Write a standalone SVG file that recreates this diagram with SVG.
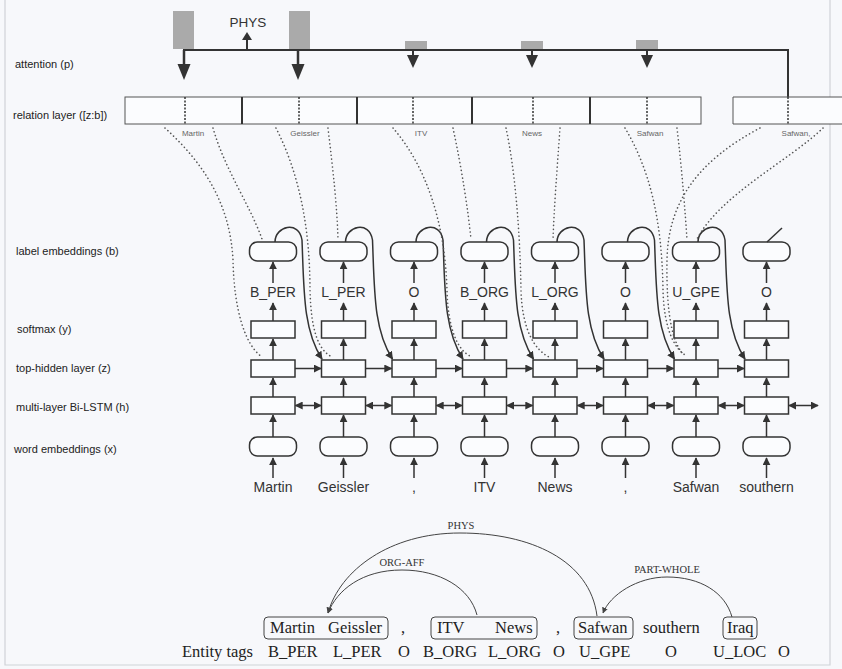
<svg xmlns="http://www.w3.org/2000/svg" width="842" height="669" viewBox="0 0 842 669">
<defs>
<marker id="ah" viewBox="0 0 10 10" refX="9" refY="5" markerWidth="8" markerHeight="8" markerUnits="userSpaceOnUse" orient="auto-start-reverse"><path d="M0,0 L10,5 L0,10 z" fill="#333"/></marker>
<marker id="ahs" viewBox="0 0 10 10" refX="9" refY="5" markerWidth="6" markerHeight="6" markerUnits="userSpaceOnUse" orient="auto"><path d="M0,0 L10,5 L0,10 z" fill="#444"/></marker>
<style>
.lbl{font-family:"Liberation Sans",Arial,sans-serif;font-size:11px;fill:#222}
.box{fill:#fbfcfe;stroke:#333;stroke-width:1.5}
.word{font-family:"Liberation Sans",Arial,sans-serif;font-size:14px;fill:#333;text-anchor:middle}
.tiny{font-family:"Liberation Sans",Arial,sans-serif;font-size:8px;fill:#666;text-anchor:middle}
.arr{stroke:#333;stroke-width:1.5;fill:none;marker-end:url(#ah)}
.darr{stroke:#333;stroke-width:1.5;fill:none;marker-end:url(#ah);marker-start:url(#ah)}
.dot{stroke:#555;stroke-width:1.6;fill:none;stroke-dasharray:0.1 3.8;stroke-linecap:round}
.serif{font-family:"Liberation Serif","Times New Roman",serif;font-size:16.5px;fill:#222}
.rel{font-family:"Liberation Serif","Times New Roman",serif;font-size:10.5px;fill:#333;text-anchor:middle}
.arc{stroke:#444;stroke-width:1;fill:none;marker-end:url(#ahs)}
.ebox{fill:none;stroke:#444;stroke-width:1}
</style>
</defs>
<rect width="842" height="669" fill="#f7f8fb"/>
<g id="frame" stroke="#d0d3d8" stroke-width="1.2" fill="none">
<path d="M5,0 V665 H830 V0"/>
</g>

<g id="row-labels">
<text class="lbl" x="15" y="68">attention (p)</text>
<text class="lbl" x="13" y="119">relation layer ([z:b])</text>
<text class="lbl" x="16" y="255">label embeddings (b)</text>
<text class="lbl" x="17" y="333">softmax (y)</text>
<text class="lbl" x="16" y="372">top-hidden layer (z)</text>
<text class="lbl" x="16" y="411">multi-layer Bi-LSTM (h)</text>
<text class="lbl" x="14" y="453">word embeddings (x)</text>
</g>

<g id="attention">
<rect x="173" y="11" width="21" height="38" fill="#aaa"/>
<rect x="289" y="11" width="21" height="38" fill="#aaa"/>
<rect x="405" y="41" width="22" height="8" fill="#aaa"/>
<rect x="521" y="41" width="22" height="8" fill="#aaa"/>
<rect x="636" y="40" width="22" height="9" fill="#aaa"/>
<path d="M183,50 H788 V97" stroke="#333" stroke-width="2" fill="none"/>
<line x1="247" y1="50" x2="247" y2="38" stroke="#333" stroke-width="2"/>
<polygon points="242,40 252,40 247,32" fill="#333"/>
<text x="248" y="27" font-family="Liberation Sans,Arial,sans-serif" font-size="13.5" fill="#333" text-anchor="middle">PHYS</text>
<line x1="184" y1="50" x2="184" y2="66" stroke="#333" stroke-width="2.5"/>
<polygon points="177.5,64 190.5,64 184,80" fill="#333"/>
<line x1="298" y1="50" x2="298" y2="66" stroke="#333" stroke-width="2.5"/>
<polygon points="291.5,64 304.5,64 298,80" fill="#333"/>
<line x1="413" y1="50" x2="413" y2="57" stroke="#333" stroke-width="2"/>
<polygon points="407,55 419,55 413,68" fill="#333"/>
<line x1="532" y1="50" x2="532" y2="57" stroke="#333" stroke-width="2"/>
<polygon points="526,55 538,55 532,68" fill="#333"/>
<line x1="647" y1="50" x2="647" y2="57" stroke="#333" stroke-width="2"/>
<polygon points="641,55 653,55 647,68" fill="#333"/>
</g>

<g id="relation-layer">
<rect x="125" y="97" width="576" height="27" fill="#fbfcfe" stroke="#555" stroke-width="1"/>
<g stroke="#333" stroke-width="2">
<line x1="242" y1="97" x2="242" y2="124"/>
<line x1="357" y1="97" x2="357" y2="124"/>
<line x1="472" y1="97" x2="472" y2="124"/>
<line x1="590" y1="97" x2="590" y2="124"/>
</g>
<path d="M842,97 H733 V124 H842" fill="#fbfcfe" stroke="#555" stroke-width="1"/>
<g stroke="#333" stroke-width="1.5" stroke-dasharray="2 1.5">
<line x1="185" y1="97" x2="185" y2="124"/>
<line x1="299" y1="97" x2="299" y2="124"/>
<line x1="413" y1="97" x2="413" y2="124"/>
<line x1="533" y1="97" x2="533" y2="124"/>
<line x1="647" y1="97" x2="647" y2="124"/>
<line x1="788" y1="97" x2="788" y2="124"/>
</g>
<text class="tiny" x="193" y="136">Martin</text>
<text class="tiny" x="305" y="136">Geissler</text>
<text class="tiny" x="421" y="136">ITV</text>
<text class="tiny" x="532" y="136">News</text>
<text class="tiny" x="650" y="136">Safwan</text>
<text class="tiny" x="796" y="136">Safwan,</text>
</g>

<g id="col1">
<rect class="box" x="249.5" y="242" width="47" height="19" rx="8"/>
<text class="word" x="273" y="297">B_PER</text>
<rect class="box" x="251" y="321" width="44" height="17"/>
<rect class="box" x="251" y="360" width="44" height="17"/>
<rect class="box" x="251" y="397" width="44" height="17"/>
<rect class="box" x="249.5" y="437" width="47" height="19" rx="8"/>
<text class="word" x="273" y="492">Martin</text>
</g>
<g id="col2">
<rect class="box" x="320" y="242" width="47" height="19" rx="8"/>
<text class="word" x="343.5" y="297">L_PER</text>
<rect class="box" x="321.5" y="321" width="44" height="17"/>
<rect class="box" x="321.5" y="360" width="44" height="17"/>
<rect class="box" x="321.5" y="397" width="44" height="17"/>
<rect class="box" x="320" y="437" width="47" height="19" rx="8"/>
<text class="word" x="343.5" y="492">Geissler</text>
</g>
<g id="col3">
<rect class="box" x="390.5" y="242" width="47" height="19" rx="8"/>
<text class="word" x="414" y="297">O</text>
<rect class="box" x="392" y="321" width="44" height="17"/>
<rect class="box" x="392" y="360" width="44" height="17"/>
<rect class="box" x="392" y="397" width="44" height="17"/>
<rect class="box" x="390.5" y="437" width="47" height="19" rx="8"/>
<text class="word" x="414" y="492">,</text>
</g>
<g id="col4">
<rect class="box" x="461" y="242" width="47" height="19" rx="8"/>
<text class="word" x="484.5" y="297">B_ORG</text>
<rect class="box" x="462.5" y="321" width="44" height="17"/>
<rect class="box" x="462.5" y="360" width="44" height="17"/>
<rect class="box" x="462.5" y="397" width="44" height="17"/>
<rect class="box" x="461" y="437" width="47" height="19" rx="8"/>
<text class="word" x="484.5" y="492">ITV</text>
</g>
<g id="col5">
<rect class="box" x="531.5" y="242" width="47" height="19" rx="8"/>
<text class="word" x="555" y="297">L_ORG</text>
<rect class="box" x="533" y="321" width="44" height="17"/>
<rect class="box" x="533" y="360" width="44" height="17"/>
<rect class="box" x="533" y="397" width="44" height="17"/>
<rect class="box" x="531.5" y="437" width="47" height="19" rx="8"/>
<text class="word" x="555" y="492">News</text>
</g>
<g id="col6">
<rect class="box" x="602" y="242" width="47" height="19" rx="8"/>
<text class="word" x="625.5" y="297">O</text>
<rect class="box" x="603.5" y="321" width="44" height="17"/>
<rect class="box" x="603.5" y="360" width="44" height="17"/>
<rect class="box" x="603.5" y="397" width="44" height="17"/>
<rect class="box" x="602" y="437" width="47" height="19" rx="8"/>
<text class="word" x="625.5" y="492">,</text>
</g>
<g id="col7">
<rect class="box" x="672.5" y="242" width="47" height="19" rx="8"/>
<text class="word" x="696" y="297">U_GPE</text>
<rect class="box" x="674" y="321" width="44" height="17"/>
<rect class="box" x="674" y="360" width="44" height="17"/>
<rect class="box" x="674" y="397" width="44" height="17"/>
<rect class="box" x="672.5" y="437" width="47" height="19" rx="8"/>
<text class="word" x="696" y="492">Safwan</text>
</g>
<g id="col8">
<rect class="box" x="743" y="242" width="47" height="19" rx="8"/>
<text class="word" x="766.5" y="297">O</text>
<rect class="box" x="744.5" y="321" width="44" height="17"/>
<rect class="box" x="744.5" y="360" width="44" height="17"/>
<rect class="box" x="744.5" y="397" width="44" height="17"/>
<rect class="box" x="743" y="437" width="47" height="19" rx="8"/>
<text class="word" x="766.5" y="492">southern</text>
</g>

<g id="connectors">
<g id="vertical-arrows">
<path class="arr" d="M273,478V458"/><path class="arr" d="M273,437V415"/><path class="arr" d="M273,397V378"/><path class="arr" d="M273,360V339"/><path class="arr" d="M273,321V303"/><path class="arr" d="M273,283V262"/>
<path class="arr" d="M343.5,478V458"/><path class="arr" d="M343.5,437V415"/><path class="arr" d="M343.5,397V378"/><path class="arr" d="M343.5,360V339"/><path class="arr" d="M343.5,321V303"/><path class="arr" d="M343.5,283V262"/>
<path class="arr" d="M414,478V458"/><path class="arr" d="M414,437V415"/><path class="arr" d="M414,397V378"/><path class="arr" d="M414,360V339"/><path class="arr" d="M414,321V303"/><path class="arr" d="M414,283V262"/>
<path class="arr" d="M484.5,478V458"/><path class="arr" d="M484.5,437V415"/><path class="arr" d="M484.5,397V378"/><path class="arr" d="M484.5,360V339"/><path class="arr" d="M484.5,321V303"/><path class="arr" d="M484.5,283V262"/>
<path class="arr" d="M555,478V458"/><path class="arr" d="M555,437V415"/><path class="arr" d="M555,397V378"/><path class="arr" d="M555,360V339"/><path class="arr" d="M555,321V303"/><path class="arr" d="M555,283V262"/>
<path class="arr" d="M625.5,478V458"/><path class="arr" d="M625.5,437V415"/><path class="arr" d="M625.5,397V378"/><path class="arr" d="M625.5,360V339"/><path class="arr" d="M625.5,321V303"/><path class="arr" d="M625.5,283V262"/>
<path class="arr" d="M696,478V458"/><path class="arr" d="M696,437V415"/><path class="arr" d="M696,397V378"/><path class="arr" d="M696,360V339"/><path class="arr" d="M696,321V303"/><path class="arr" d="M696,283V262"/>
<path class="arr" d="M766.5,478V458"/><path class="arr" d="M766.5,437V415"/><path class="arr" d="M766.5,397V378"/><path class="arr" d="M766.5,360V339"/><path class="arr" d="M766.5,321V303"/><path class="arr" d="M766.5,283V262"/>
</g>
<g id="hidden-arrows">
<path class="arr" d="M295,368.5H321"/>
<path class="arr" d="M365.5,368.5H391.5"/>
<path class="arr" d="M436,368.5H462"/>
<path class="arr" d="M506.5,368.5H532.5"/>
<path class="arr" d="M577,368.5H603"/>
<path class="arr" d="M647.5,368.5H673.5"/>
<path class="arr" d="M718,368.5H744"/>
</g>
<g id="bilstm-arrows">
<path class="darr" d="M295.5,405.5H321"/>
<path class="darr" d="M366,405.5H391.5"/>
<path class="darr" d="M436.5,405.5H462"/>
<path class="darr" d="M507,405.5H532.5"/>
<path class="darr" d="M577.5,405.5H603"/>
<path class="darr" d="M648,405.5H673.5"/>
<path class="darr" d="M718.5,405.5H744"/>
<path class="darr" d="M789,405.5H818"/>
</g>
<g id="label-loops">
<path class="arr" d="M275,242 C275,226 299,220 302,240 C304,290 303,330 322,359"/>
<path class="arr" d="M345.5,242 C345.5,226 369.5,220 372.5,240 C374.5,290 373.5,330 392.5,359"/>
<path class="arr" d="M416,242 C416,226 440,220 443,240 C445,290 444,330 463,359"/>
<path class="arr" d="M486.5,242 C486.5,226 510.5,220 513.5,240 C515.5,290 514.5,330 533.5,359"/>
<path class="arr" d="M557,242 C557,226 581,220 584,240 C586,290 585,330 604,359"/>
<path class="arr" d="M627.5,242 C627.5,226 651.5,220 654.5,240 C656.5,290 655.5,330 674.5,359"/>
<path class="arr" d="M698,242 C698,226 722,220 725,240 C727,290 726,330 745,359"/>
<path d="M767,242 L782,228" stroke="#333" stroke-width="1.5" fill="none"/>
</g>
<g id="relation-dotted">
<path class="dot" d="M165,128 C200,160 230,200 233,260 C234,310 245,345 262,357"/>
<path class="dot" d="M213,128 C225,170 250,205 262,239"/>
<path class="dot" d="M276,128 C300,175 310,230 310,290 C311,330 318,350 332,357"/>
<path class="dot" d="M328,128 C333,170 337,205 338,239"/>
<path class="dot" d="M393,128 C425,165 445,220 447,290 C448,330 458,350 470,356"/>
<path class="dot" d="M453,128 C462,170 468,210 471,239"/>
<path class="dot" d="M506,128 C515,170 520,230 521,290 C522,330 535,350 549,357"/>
<path class="dot" d="M560,128 C557,170 554,210 553,239"/>
<path class="dot" d="M625,128 C650,170 662,220 663,290 C664,330 675,350 687,356"/>
<path class="dot" d="M677,128 C682,170 685,210 687,239"/>
<path class="dot" d="M760,128 C700,160 668,200 667,260 C666,320 674,345 684,355"/>
<path class="dot" d="M823,128 C790,160 720,195 697,239"/>
</g>
</g>

<g id="entity-sentence">
<rect class="ebox" x="264" y="617" width="124" height="22" rx="4"/>
<rect class="ebox" x="431" y="617" width="106" height="22" rx="4"/>
<rect class="ebox" x="574" y="617" width="59" height="22" rx="4"/>
<rect class="ebox" x="723" y="617" width="34" height="22" rx="4"/>
<text class="serif" x="270" y="633">Martin</text>
<text class="serif" x="328" y="633">Geissler</text>
<text class="serif" x="401" y="633">,</text>
<text class="serif" x="437" y="633">ITV</text>
<text class="serif" x="495" y="633">News</text>
<text class="serif" x="556" y="633">,</text>
<text class="serif" x="578" y="633">Safwan</text>
<text class="serif" x="643" y="633">southern</text>
<text class="serif" x="727" y="633">Iraq</text>
<text class="serif" x="182" y="657">Entity tags</text>
<text class="serif" x="268" y="657">B_PER</text>
<text class="serif" x="333" y="657">L_PER</text>
<text class="serif" x="398" y="657">O</text>
<text class="serif" x="423" y="657">B_ORG</text>
<text class="serif" x="488" y="657">L_ORG</text>
<text class="serif" x="553" y="657">O</text>
<text class="serif" x="579" y="657">U_GPE</text>
<text class="serif" x="665" y="657">O</text>
<text class="serif" x="713" y="657">U_LOC</text>
<text class="serif" x="778" y="657">O</text>
</g>
<g id="relation-arcs">
<path class="arc" d="M597,616 C590,560 530,533 460,533 C390,533 340,570 328,613"/>
<path class="arc" d="M477,615 C470,588 440,570 402,570 C362,570 337,590 328,613"/>
<path class="arc" d="M732,617 C725,592 700,577 667,577 C637,577 610,595 603,613"/>
<text class="rel" x="461" y="529">PHYS</text>
<text class="rel" x="402" y="566">ORG-AFF</text>
<text class="rel" x="667" y="573">PART-WHOLE</text>
</g>
</svg>
